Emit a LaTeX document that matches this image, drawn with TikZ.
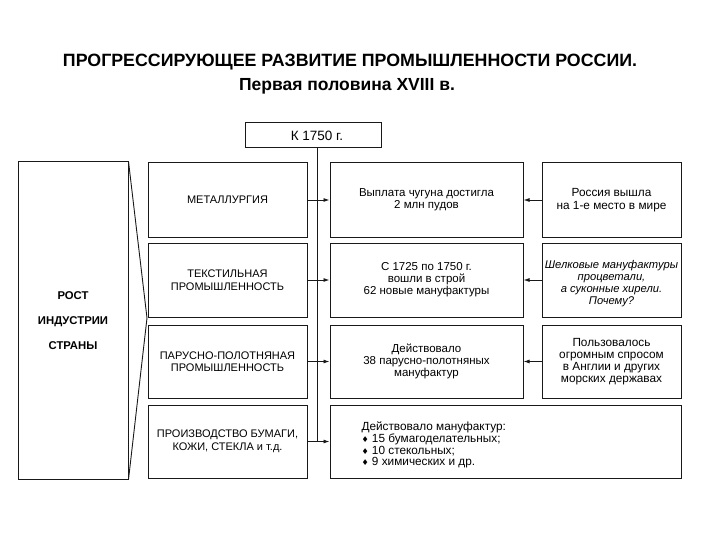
\documentclass[tikz,border=0pt]{standalone}
\usepackage{fontspec}
\setmainfont{Liberation Sans}
\newfontfamily\dejavu{DejaVu Sans}
\usetikzlibrary{arrows.meta}
\tikzset{
  box/.style={draw=black!90, line width=1pt, inner sep=2pt, align=center, font=\fontsize{11}{12.5}\selectfont},
  txt/.style={font=\fontsize{11.5}{12}\selectfont, align=center},
  side/.style={font=\fontsize{11.8}{11.8}\selectfont, align=center},
  conn/.style={draw=black!90, line width=0.9pt},
  arr/.style={conn, -{Latex[length=6pt,width=4pt]}},
}
\newcommand{\bul}{{\dejavu\fontsize{8}{11.5}\selectfont ♦}\ }
\begin{document}
\begin{tikzpicture}[x=1pt,y=-1pt]
\useasboundingbox (0,0) rectangle (720,540);
% title
\node[font=\bfseries\fontsize{17.8}{20}\selectfont] (t1) at (350,62) {ПРОГРЕССИРУЮЩЕЕ РАЗВИТИЕ ПРОМЫШЛЕННОСТИ РОССИИ.};
\node[font=\bfseries\fontsize{17.5}{20}\selectfont] (t2) at (347,86) {Первая половина XVIII в.};
% K 1750
\node[box, minimum width=136, minimum height=25, font=\fontsize{13.5}{15}\selectfont] (k) at (313,135.5) {\hspace*{8pt}К 1750 г.};
% left box
\node[box, minimum width=110, minimum height=317, font=\bfseries\fontsize{11.3}{25}\selectfont] (left) at (73,320.5) {РОСТ\\ИНДУСТРИИ\\СТРАНЫ};
\coordinate (tip) at (147,318);
\draw[conn] (left.north east) -- (tip) -- (left.south east);
% column 2
\node[box, minimum width=159, minimum height=74] (a1) at (227.5,200) {МЕТАЛЛУРГИЯ};
\node[box, minimum width=159, minimum height=74] (a2) at (227.5,280) {ТЕКСТИЛЬНАЯ\\ПРОМЫШЛЕННОСТЬ};
\node[box, minimum width=159, minimum height=73] (a3) at (227.5,361.5) {ПАРУСНО-ПОЛОТНЯНАЯ\\ПРОМЫШЛЕННОСТЬ};
\node[box, minimum width=159, minimum height=73] (a4) at (227.5,441.5) {ПРОИЗВОДСТВО БУМАГИ,\\КОЖИ, СТЕКЛА и т.д.};
% column 3
\node[box, txt, minimum width=193, minimum height=74] (b1) at (426.5,200) {Выплата чугуна достигла\\2 млн пудов};
\node[box, txt, minimum width=193, minimum height=74] (b2) at (426.5,280) {С 1725 по 1750 г.\\вошли в строй\\62 новые мануфактуры};
\node[box, txt, minimum width=193, minimum height=73] (b3) at (426.5,361.5) {Действовало\\38 парусно-полотняных\\мануфактур};
\node[box, minimum width=351, minimum height=73] (b4) at (505.5,441.5) {};
\node[side, anchor=west, align=left] (b4t) at (358,445) {Действовало мануфактур:\\\bul 15 бумагоделательных;\\\bul 10 стекольных;\\\bul 9 химических и др.};
% column 4
\node[box, side, minimum width=139, minimum height=74, font=\fontsize{11.8}{13}\selectfont] (c1) at (611.5,200) {Россия вышла\\на 1-е место в мире};
\node[box, side, minimum width=139, minimum height=74, font=\itshape\fontsize{11.2}{12.2}\selectfont] (c2) at (611.5,280) {\rule{0pt}{15pt}Шелковые мануфактуры\\процветали,\\а суконные хирели.\\Почему?};
\node[box, side, minimum width=139, minimum height=73] (c3) at (611.5,361.5) {Пользовалось\\огромным спросом\\в Англии и других\\морских державах};
% connectors
\coordinate (vb) at (317,441.5);
\draw[conn] (k.south -| vb) -- (vb);
\draw[arr] (a1.east) -- (b1.west);
\draw[arr] (a2.east) -- (b2.west);
\draw[arr] (a3.east) -- (b3.west);
\draw[arr] (a4.east) -- (b4.west);
\draw[arr] (c1.west) -- (b1.east);
\draw[arr] (c2.west) -- (b2.east);
\draw[arr] (c3.west) -- (b3.east);
\end{tikzpicture}
\end{document}
